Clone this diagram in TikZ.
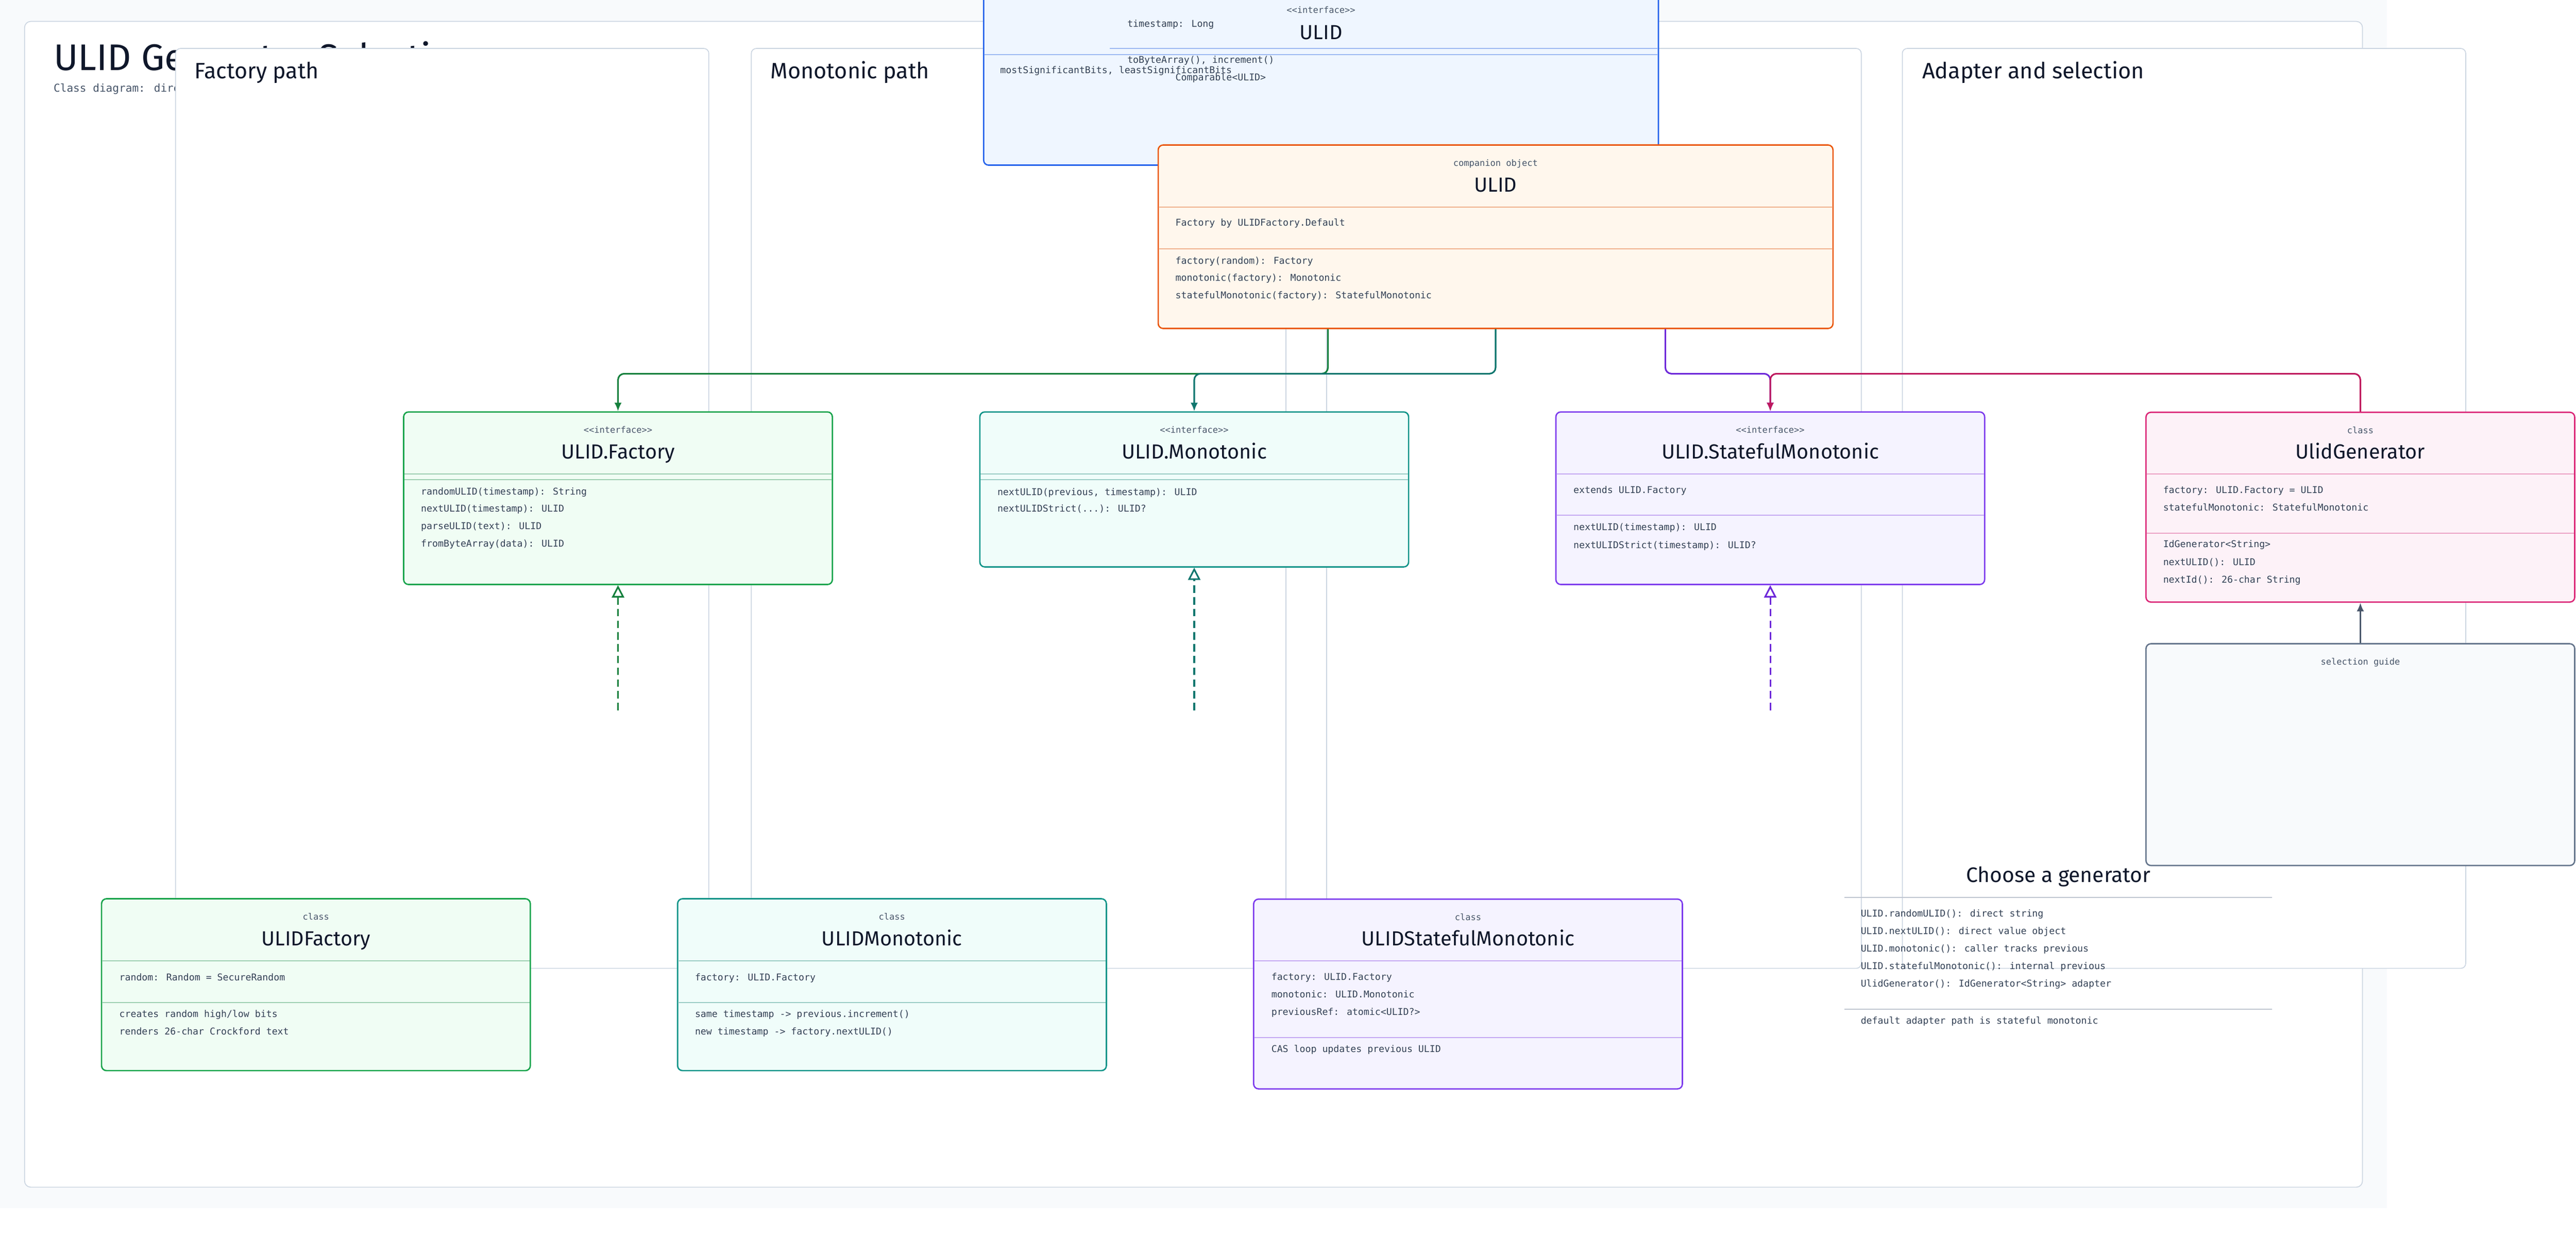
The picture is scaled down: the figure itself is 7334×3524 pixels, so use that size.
\documentclass[tikz,border=0pt]{standalone}
\usepackage{fontspec}
\newfontfamily\handfont{Fira Sans}
\newfontfamily\codefont{DejaVu Sans Mono}
\usetikzlibrary{arrows.meta}
\definecolor{pagegray}{HTML}{F8FAFC}
\definecolor{lanegray}{HTML}{CBD5E1}
\definecolor{notegray}{HTML}{BFC5D0}
\definecolor{textdark}{HTML}{0F172A}
\definecolor{textmid}{HTML}{334155}
\definecolor{textsoft}{HTML}{475569}
\definecolor{blueline}{HTML}{2563EB}
\definecolor{bluefill}{HTML}{EFF6FF}
\definecolor{bluesep}{HTML}{9CB8F2}
\definecolor{orgline}{HTML}{EA580C}
\definecolor{orgfill}{HTML}{FFF7ED}
\definecolor{orgsep}{HTML}{F0B08C}
\definecolor{grnline}{HTML}{16A34A}
\definecolor{grnfill}{HTML}{F0FDF4}
\definecolor{grnsep}{HTML}{9CCFB0}
\definecolor{grnconn}{HTML}{15803D}
\definecolor{tealline}{HTML}{0D9488}
\definecolor{tealfill}{HTML}{F0FDFA}
\definecolor{tealsep}{HTML}{99CCC4}
\definecolor{tealconn}{HTML}{0F766E}
\definecolor{purpline}{HTML}{7C3AED}
\definecolor{purpfill}{HTML}{F5F3FF}
\definecolor{purpsep}{HTML}{C4A8F2}
\definecolor{purpconn}{HTML}{6D28D9}
\definecolor{pinkline}{HTML}{DB2777}
\definecolor{pinkfill}{HTML}{FDF2F8}
\definecolor{pinksep}{HTML}{EBA0C4}
\definecolor{pinkconn}{HTML}{BE185D}
\definecolor{slateline}{HTML}{64748B}
\definecolor{slateconn}{HTML}{475569}
\tikzset{
  lane/.style={draw=lanegray, fill=white, line width=0.7pt, rounded corners=4pt},
  classbox/.style={draw, line width=1.1pt, rounded corners=4pt, minimum width=12.2cm, inner sep=0pt},
  boxrule/.style={line width=0.8pt},
  member/.style={anchor=west, inner sep=0pt, text height=6pt, text depth=1.6pt, font=\codefont\fontsize{7.6}{9}\selectfont, text=textmid},
  stereo/.style={anchor=base, inner sep=0pt, font=\codefont\fontsize{7.1}{9}\selectfont, text=textsoft},
  cname/.style={anchor=base, inner sep=0pt, font=\handfont\fontsize{16.5}{20}\selectfont, text=textdark},
  lanetitle/.style={anchor=base west, inner sep=0pt, font=\handfont\fontsize{18}{22}\selectfont, text=textdark},
  conn/.style={line width=1.3pt, rounded corners=5pt, -{Latex[length=7pt,width=6pt]}},
  realize/.style={line width=1.3pt, dash pattern=on 6pt off 3.5pt, -{Triangle[open,length=10pt,width=10pt]}}
}
\begin{document}
\begin{tikzpicture}[x=0.01cm, y=-0.01cm]
\useasboundingbox (0,0) rectangle (7334,3524);
\fill[white] (0,0) rectangle (7334,3524);
\fill[pagegray] (0,0) rectangle (6796,3440);
\draw[lane, rounded corners=5pt] (70,61) rectangle (6726,3380);
\node[anchor=base west, inner sep=0pt, font=\handfont\fontsize{30}{36}\selectfont, text=textdark] (title) at (152,200) {ULID Generator Selection};
\node[anchor=base west, inner sep=0pt, font=\codefont\fontsize{8.8}{11}\selectfont, text=textsoft] (subtitle) at (152,262) {Class diagram: direct generators, monotonic state and adapter};
\draw[lane] (500,138) rectangle (2018,2757);
\draw[lane] (2139,138) rectangle (3661,2757);
\draw[lane] (3777,138) rectangle (5299,2757);
\draw[lane] (5416,138) rectangle (7020,2757);
\node[lanetitle] (lane1) at (553,223) {Factory path};
\node[lanetitle] (lane2) at (2193,223) {Monotonic path};
\node[lanetitle] (lane4) at (5472,223) {Adapter and selection};
\node[cname, font=\handfont\fontsize{17}{20}\selectfont] (choose) at (5860,2512) {Choose a generator};
\draw[boxrule, draw=notegray] (5251,2555) -- (6468,2555);
\node[member] (ch1) at (5297,2603) {ULID.randomULID(): direct string};
\node[member] (ch2) at (5297,2652) {ULID.nextULID(): direct value object};
\node[member] (ch3) at (5297,2702) {ULID.monotonic(): caller tracks previous};
\node[member] (ch4) at (5297,2752) {ULID.statefulMonotonic(): internal previous};
\node[member] (ch5) at (5297,2802) {UlidGenerator(): IdGenerator<String> adapter};
\draw[boxrule, draw=notegray] (5251,2874) -- (6468,2874);
\node[member] (ch6) at (5297,2907) {default adapter path is stateful monotonic};
\node[classbox, draw=blueline, fill=bluefill, minimum width=19.2cm, minimum height=5.7cm] (ulid) at (3761,185) {};
\node[stereo] (ulid-st) at (3761,38) {<<interface>>};
\node[member] (ulid-f1) at (3209,70) {timestamp: Long};
\node[cname] (ulid-nm) at (3761,112) {ULID};
\draw[boxrule, draw=bluesep] (3160,138) -- (4719,138);
\draw[boxrule, draw=bluesep] (2803,156) -- (4719,156);
\node[member] (ulid-m1) at (3209,172) {toByteArray(), increment()};
\node[member] (ulid-m2) at (2847,202) {mostSignificantBits, leastSignificantBits};
\node[member] (ulid-m3) at (3346,222) {Comparable<ULID>};
\node[classbox, draw=orgline, fill=orgfill, minimum width=19.2cm, minimum height=5.22cm] (comp) at (4258,674) {};
\node[stereo] (comp-st) at (4258,473) {companion object};
\node[cname] (comp-nm) at (4258,546) {ULID};
\draw[boxrule, draw=orgsep] (3300,590) -- (5216,590);
\node[member] (comp-f1) at (3346,636) {Factory by ULIDFactory.Default};
\draw[boxrule, draw=orgsep] (3300,708) -- (5216,708);
\node[member] (comp-m1) at (3346,744) {factory(random): Factory};
\node[member] (comp-m2) at (3346,793) {monotonic(factory): Monotonic};
\node[member] (comp-m3) at (3346,843) {statefulMonotonic(factory): StatefulMonotonic};
\node[classbox, draw=grnline, fill=grnfill, minimum height=4.91cm] (fac) at (1759.5,1418.5) {};
\node[stereo] (fac-st) at (1759.5,1233) {<<interface>>};
\node[cname] (fac-nm) at (1759.5,1306) {ULID.Factory};
\draw[boxrule, draw=grnsep] (1152,1350) -- (2367,1350);
\draw[boxrule, draw=grnsep] (1152,1366) -- (2367,1366);
\node[member] (fac-m1) at (1198,1401) {randomULID(timestamp): String};
\node[member] (fac-m2) at (1198,1450) {nextULID(timestamp): ULID};
\node[member] (fac-m3) at (1198,1500) {parseULID(text): ULID};
\node[member] (fac-m4) at (1198,1549) {fromByteArray(data): ULID};
\node[classbox, draw=tealline, fill=tealfill, minimum height=4.41cm] (mono) at (3400,1393.5) {};
\node[stereo] (mono-st) at (3400,1233) {<<interface>>};
\node[cname] (mono-nm) at (3400,1306) {ULID.Monotonic};
\draw[boxrule, draw=tealsep] (2792,1350) -- (4008,1350);
\draw[boxrule, draw=tealsep] (2792,1366) -- (4008,1366);
\node[member] (mono-m1) at (2839,1402) {nextULID(previous, timestamp): ULID};
\node[member] (mono-m2) at (2839,1450) {nextULIDStrict(...): ULID?};
\node[classbox, draw=purpline, fill=purpfill, minimum height=4.91cm] (stat) at (5040,1418.5) {};
\node[stereo] (stat-st) at (5040,1233) {<<interface>>};
\node[cname] (stat-nm) at (5040,1306) {ULID.StatefulMonotonic};
\draw[boxrule, draw=purpsep] (4432,1350) -- (5648,1350);
\node[member] (stat-f1) at (4479,1396) {extends ULID.Factory};
\draw[boxrule, draw=purpsep] (4432,1467) -- (5648,1467);
\node[member] (stat-m1) at (4479,1503) {nextULID(timestamp): ULID};
\node[member] (stat-m2) at (4479,1553) {nextULIDStrict(timestamp): ULID?};
\node[classbox, draw=pinkline, fill=pinkfill, minimum height=5.4cm] (gen) at (6720,1444) {};
\node[stereo] (gen-st) at (6720,1234) {class};
\node[cname] (gen-nm) at (6720,1306) {UlidGenerator};
\draw[boxrule, draw=pinksep] (6112,1350) -- (7328,1350);
\node[member] (gen-f1) at (6158,1396) {factory: ULID.Factory = ULID};
\node[member] (gen-f2) at (6158,1446) {statefulMonotonic: StatefulMonotonic};
\draw[boxrule, draw=pinksep] (6112,1518) -- (7328,1518);
\node[member] (gen-m1) at (6158,1551) {IdGenerator<String>};
\node[member] (gen-m2) at (6158,1602) {nextULID(): ULID};
\node[member] (gen-m3) at (6158,1652) {nextId(): 26-char String};
\node[classbox, draw=slateline, fill=pagegray, minimum height=6.31cm] (guide) at (6720,2148.5) {};
\node[stereo] (guide-st) at (6720,1893) {selection guide};
\node[classbox, draw=grnline, fill=grnfill, minimum height=4.89cm] (ulidfac) at (899.5,2803.5) {};
\node[stereo] (ulidfac-st) at (899.5,2619) {class};
\node[cname] (ulidfac-nm) at (899.5,2692) {ULIDFactory};
\draw[boxrule, draw=grnsep] (291,2736) -- (1508,2736);
\node[member] (ulidfac-f1) at (339,2784) {random: Random = SecureRandom};
\draw[boxrule, draw=grnsep] (291,2854) -- (1508,2854);
\node[member] (ulidfac-m1) at (339,2889) {creates random high/low bits};
\node[member] (ulidfac-m2) at (339,2939) {renders 26-char Crockford text};
\node[classbox, draw=tealline, fill=tealfill, minimum height=4.89cm] (ulidmono) at (2539.5,2803.5) {};
\node[stereo] (ulidmono-st) at (2539.5,2619) {class};
\node[cname] (ulidmono-nm) at (2539.5,2692) {ULIDMonotonic};
\draw[boxrule, draw=tealsep] (1931,2736) -- (3148,2736);
\node[member] (ulidmono-f1) at (1978,2784) {factory: ULID.Factory};
\draw[boxrule, draw=tealsep] (1931,2854) -- (3148,2854);
\node[member] (ulidmono-m1) at (1978,2889) {same timestamp -> previous.increment()};
\node[member] (ulidmono-m2) at (1978,2939) {new timestamp -> factory.nextULID()};
\node[classbox, draw=purpline, fill=purpfill, minimum height=5.4cm] (ulidstat) at (4179.5,2830) {};
\node[stereo] (ulidstat-st) at (4179.5,2620) {class};
\node[cname] (ulidstat-nm) at (4179.5,2692) {ULIDStatefulMonotonic};
\draw[boxrule, draw=purpsep] (3571,2736) -- (4788,2736);
\node[member] (ulidstat-f1) at (3619,2783) {factory: ULID.Factory};
\node[member] (ulidstat-f2) at (3619,2832) {monotonic: ULID.Monotonic};
\node[member] (ulidstat-f3) at (3619,2882) {previousRef: atomic<ULID?>};
\draw[boxrule, draw=purpsep] (3571,2954) -- (4788,2954);
\node[member] (ulidstat-m1) at (3619,2988) {CAS loop updates previous ULID};
\coordinate (bus) at (0,1064);
\coordinate (realend) at (0,2022);
\draw[conn, draw=grnconn] ([xshift=-4.77cm]comp.south) |- (bus -| fac.north) -- (fac.north);
\draw[conn, draw=tealconn] (comp.south) |- (bus -| mono.north) -- (mono.north);
\draw[conn, draw=purpconn] ([xshift=4.83cm]comp.south) |- (bus -| stat.north) -- (stat.north);
\draw[conn, draw=pinkconn] (gen.north) |- (bus -| stat.north) -- (stat.north);
\draw[conn, draw=slateconn] (guide.north) -- (gen.south);
\draw[realize, draw=grnconn] (fac.south |- realend) -- (fac.south);
\draw[realize, draw=tealconn] (mono.south |- realend) -- (mono.south);
\draw[realize, draw=purpconn] (stat.south |- realend) -- (stat.south);
\end{tikzpicture}
\end{document}
